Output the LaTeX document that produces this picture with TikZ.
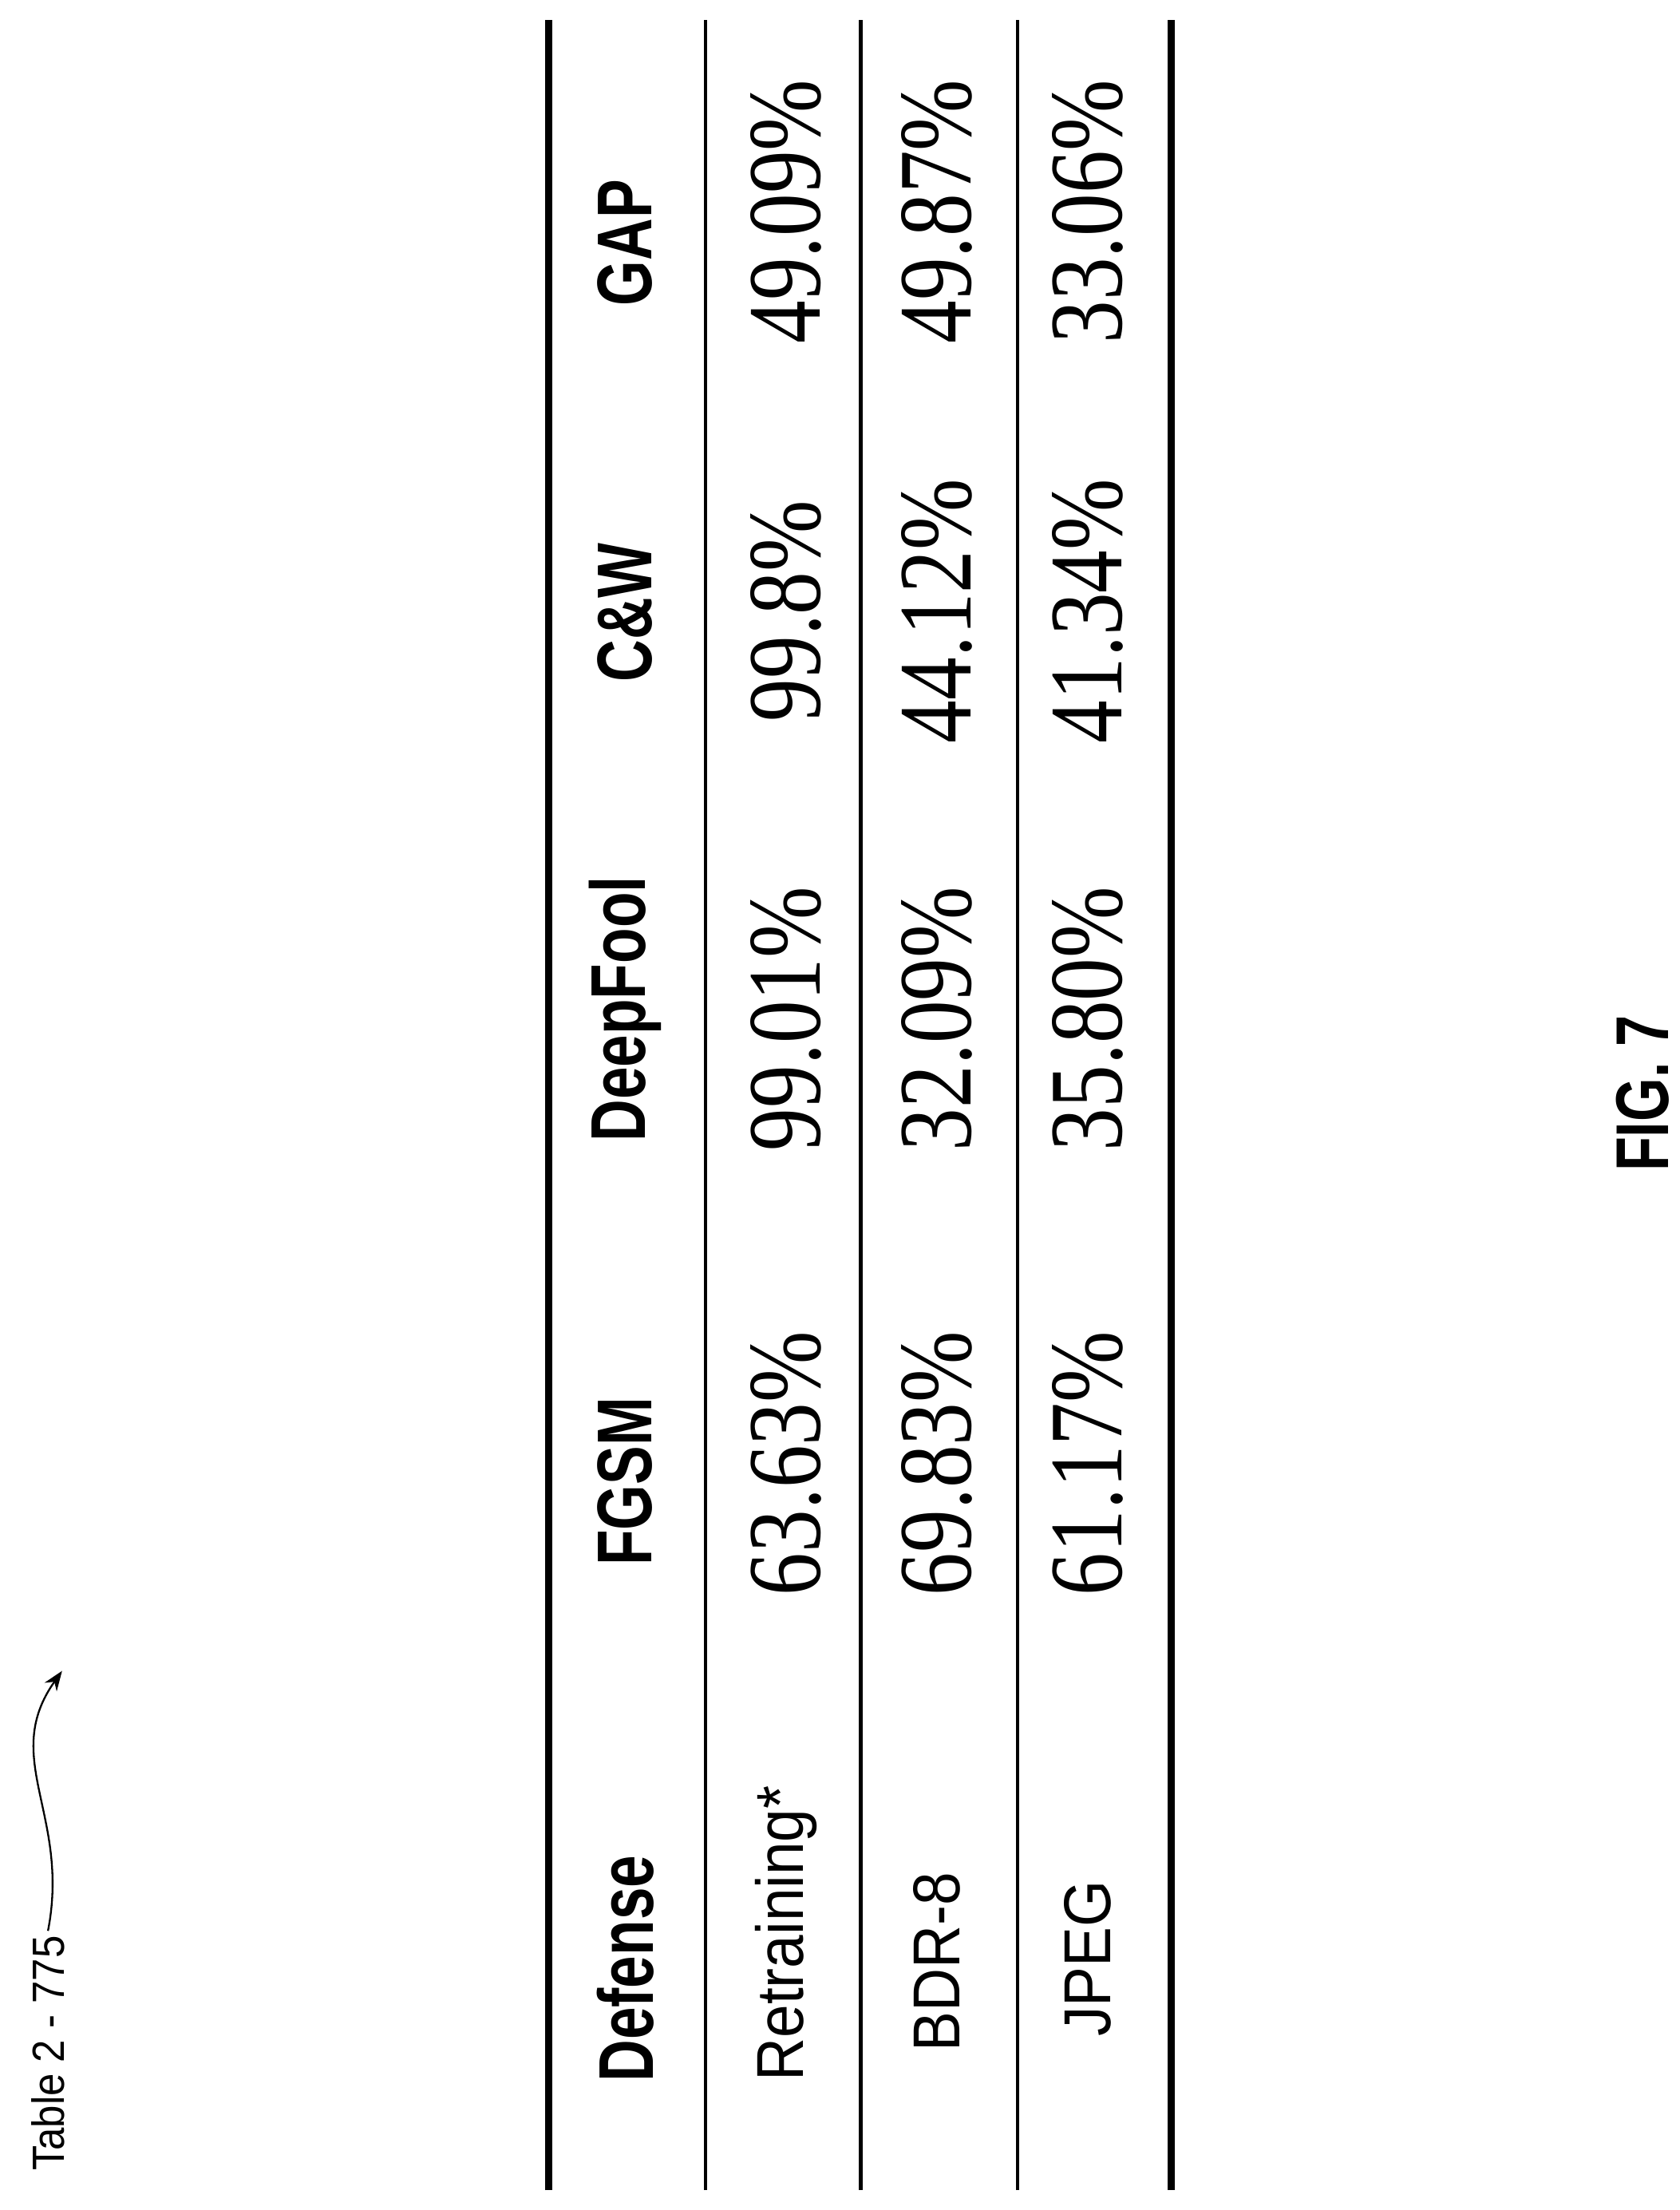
\documentclass[tikz,border=0pt]{standalone}
\usetikzlibrary{arrows.meta}
\usepackage{fontspec}
\setmainfont[FakeStretch=0.82]{Liberation Serif}
\setsansfont{Liberation Sans}
\newfontfamily\hdfont[FakeStretch=0.75]{Liberation Sans}
\newfontfamily\rlfont[FakeStretch=0.9]{Liberation Sans}
\begin{document}
\begin{tikzpicture}[x=1pt,y=1pt,
  hd/.style={rotate=90,font=\hdfont\bfseries\fontsize{55}{60}\selectfont,anchor=center},
  rl/.style={rotate=90,font=\rlfont\fontsize{47}{50}\selectfont,anchor=center},
  dv/.style={rotate=90,font=\fontsize{74}{78}\selectfont,anchor=center},
  thick rule/.style={line width=5pt},
  thin rule/.style={line width=2.5pt}]
\useasboundingbox (0,0) rectangle (1190,1566);
\coordinate (r1a) at (389,14); \coordinate (r1b) at (389,1552);
\coordinate (r2a) at (500,14); \coordinate (r2b) at (500,1552);
\coordinate (r3a) at (610,14); \coordinate (r3b) at (610,1552);
\coordinate (r4a) at (721,14); \coordinate (r4b) at (721,1552);
\coordinate (r5a) at (830,14); \coordinate (r5b) at (830,1552);
\draw[thick rule] (r1a) -- (r1b);
\draw[thin rule] (r2a) -- (r2b);
\draw[thin rule] (r3a) -- (r3b);
\draw[thin rule] (r4a) -- (r4b);
\draw[thick rule] (r5a) -- (r5b);
% header
\node[hd] (h0) at (443,171) {Defense};
\node[hd] (h1) at (443,516) {FGSM};
\node[hd] (h2) at (443,851) {DeepFool};
\node[hd] (h3) at (443,1132) {C\&W};
\node[hd] (h4) at (443,1394) {GAP};
% rows
\node[rl] (a0) at (557,196) {Retraining*};
\node[dv] (a1) at (557,529) {63.63\%};
\node[dv] (a2) at (557,844) {99.01\%};
\node[dv] (a3) at (557,1133) {99.8\%};
\node[dv] (a4) at (557,1416) {49.09\%};
\node[rl] (b0) at (664,176) {BDR-8};
\node[dv] (b1) at (664,529) {69.83\%};
\node[dv] (b2) at (664,844) {32.09\%};
\node[dv] (b3) at (664,1133) {44.12\%};
\node[dv] (b4) at (664,1416) {49.87\%};
\node[rl] (c0) at (771,178) {JPEG};
\node[dv] (c1) at (771,529) {61.17\%};
\node[dv] (c2) at (771,844) {35.80\%};
\node[dv] (c3) at (771,1133) {41.34\%};
\node[dv] (c4) at (771,1416) {33.06\%};
\node[rotate=90,font=\hdfont\bfseries\fontsize{53}{56}\selectfont] (fig) at (1164,791) {FIG. 7};
\node[rotate=90,font=\rlfont\fontsize{32}{36}\selectfont] (tab) at (34,111) {Table 2 - 775};
\coordinate (tip) at (44,382);
\draw[line width=1.3pt,-{Stealth[length=14pt]}] (tab.east) .. controls (50,280) and (0,320) .. (tip);
\end{tikzpicture}
\end{document}
